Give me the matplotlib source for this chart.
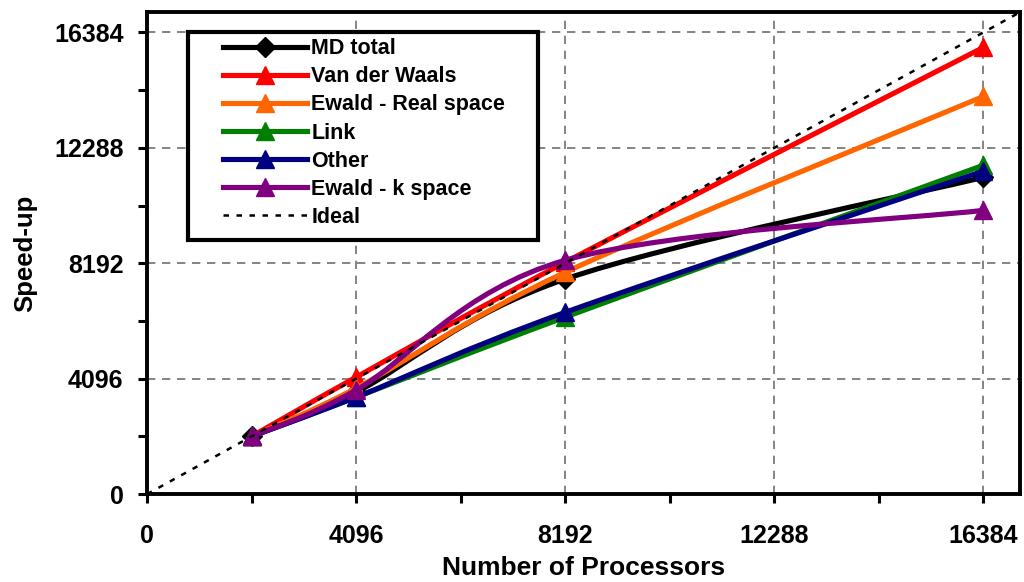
import numpy as np
from matplotlib import pyplot as plt
from matplotlib.path import Path
from matplotlib.patches import PathPatch, Rectangle
from matplotlib.lines import Line2D

plt.rcParams['font.family'] = ['Liberation Sans', 'DejaVu Sans']
plt.rcParams['font.weight'] = 'bold'

# Data
procs = [2048, 4096, 8192, 16384]
md_total = [2048, 3620, 7630, 11240]
vdw = [2048, 4150, 8230, 15850]
ewald_real = [2048, 3760, 7870, 14110]
link = [2048, 3440, 6280, 11670]
other = [2048, 3440, 6450, 11460]
ewald_k = [2048, 3690, 8300, 10070]
ideal_x = [0, 17100]

labels = ['MD total', 'Van der Waals', 'Ewald - Real space', 'Link', 'Other', 'Ewald - k space']
series = [md_total, vdw, ewald_real, link, other, ewald_k]
colors = ['black', '#FF0000', '#FF6600', '#008000', '#000080', '#800080']
markers = ['D', '^', '^', '^', '^', '^']


def smooth_path(xs, ys):
    # Excel-style smoothed line: cubic Bezier segments (Catmull-Rom, tension 1/6)
    pts = np.column_stack([xs, ys]).astype(float)
    n = len(pts)
    verts = [pts[0]] ; codes = [Path.MOVETO]
    for k in range(n - 1):
        p0 = pts[max(k - 1, 0)] ; p1 = pts[k]
        p2 = pts[k + 1] ; p3 = pts[min(k + 2, n - 1)]
        c1 = p1 + (p2 - p0) / 6.0
        c2 = p2 - (p3 - p1) / 6.0
        verts += [c1, c2, p2]
        codes += [Path.CURVE4] * 3
    return Path(verts, codes)


fig = plt.figure(figsize=(10.24, 5.82), dpi=100)
ax = fig.add_axes([0.1436, 0.151, 0.8524, 0.828])

LW = 3.7
handles = []
for i, (ys, lab) in enumerate(zip(series, labels)):
    patch = PathPatch(smooth_path(procs, ys), facecolor='none', edgecolor=colors[i],
                      lw=LW, zorder=3 + i * 0.1, capstyle='round', joinstyle='round')
    ax.add_patch(patch)
    ms = 10 if markers[i] == 'D' else 12.5
    ax.plot(procs, ys, linestyle='none', marker=markers[i], color=colors[i],
            markersize=ms, zorder=3.05 + i * 0.1)
    handles.append(Line2D([], [], color=colors[i], lw=LW, marker=markers[i], markersize=ms,
                          label=lab))

ax.plot(ideal_x, ideal_x, color='black', lw=1.8, linestyle=(0, (2.2, 3)), zorder=4)
handles.append(Line2D([], [], color='black', lw=1.8, linestyle=(0, (2.2, 3)), label='Ideal'))

ax.set_xlim(0, 17100)
ax.set_ylim(0, 17100)
major = [0, 4096, 8192, 12288, 16384]
ax.set_xticks(major)
ax.set_yticks(major)
ax.set_xticks(np.arange(2048, 17000, 4096), minor=True)
ax.set_yticks(np.arange(2048, 17000, 4096), minor=True)
ax.tick_params(which='both', direction='out', length=6.5, width=2.2, labelsize=18)
ax.tick_params(axis='x', pad=15)
ax.tick_params(axis='y', pad=10.5)
for lab in ax.get_xticklabels() + ax.get_yticklabels():
    lab.set_fontweight('bold')

ax.grid(True, which='major', color='#707070', linestyle=(0, (5, 4)), lw=1.2)
for s in ax.spines.values():
    s.set_linewidth(2.8)

ax.set_xlabel('Number of Processors', fontsize=19, fontweight='bold', labelpad=6)
ax.set_ylabel('Speed-up', fontsize=18.5, fontweight='bold', labelpad=12)

# legend box (frame drawn separately so the handles sit inset like the original)
ax.add_patch(Rectangle((0.047, 0.527), 0.401, 0.4315, transform=ax.transAxes,
                       facecolor='white', edgecolor='black', lw=3, zorder=9))
leg = ax.legend(handles=handles, loc='upper left', bbox_to_anchor=(0.087, 0.946),
                prop={'size': 15.5, 'weight': 'bold'}, frameon=False,
                handlelength=3.9, handletextpad=0.2, labelspacing=0.33,
                borderpad=0.0, borderaxespad=0.0)
leg.set_zorder(10)

plt.savefig('out.png', dpi=100)
